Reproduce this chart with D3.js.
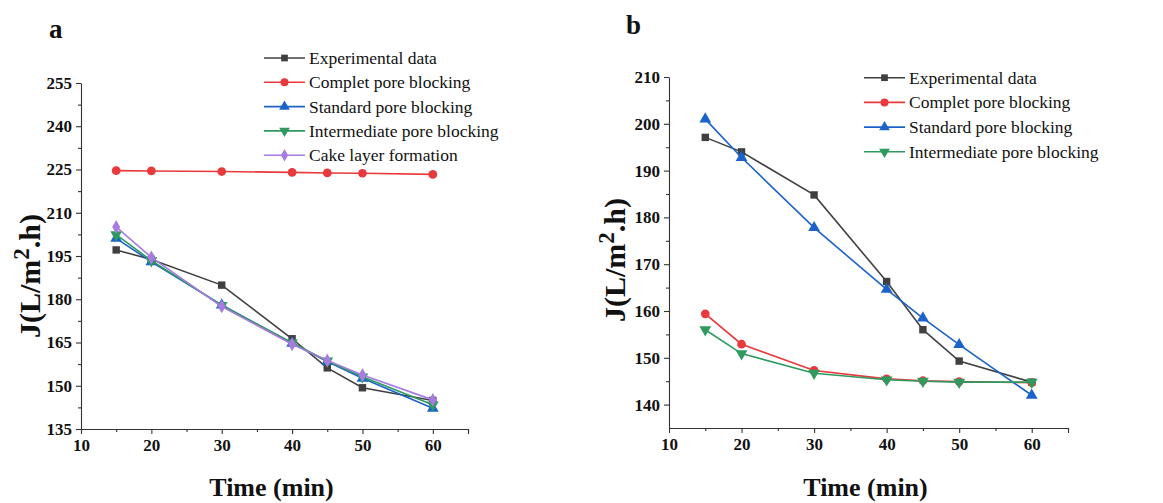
<!DOCTYPE html>
<html>
<head>
<meta charset="utf-8">
<script src="https://cdn.jsdelivr.net/npm/d3@7"></script>
<style>
  body { margin: 0; background: #fff; }
  svg { font-family: "Liberation Serif", "Times New Roman", serif; }
</style>
</head>
<body>
<div id="chart"></div>
<script>
var times = [15, 20, 30, 40, 45, 50, 60];

// panel a
var expA = [197.1, 193.8, 184.9, 166.3, 156.2, 149.3, 144.9];
var completA = [224.6, 224.5, 224.3, 224.0, 223.8, 223.7, 223.3];
var standardA = [201.1, 193.0, 178.0, 164.7, 158.4, 152.6, 142.2];
var intermediateA = [202.4, 193.4, 177.9, 164.9, 158.6, 153.1, 143.4];
var cakeA = [205.1, 194.5, 177.5, 164.4, 158.8, 153.7, 145.1];

// panel b
var expB = [197.1, 194.0, 184.8, 166.3, 156.0, 149.3, 144.8];
var completB = [159.4, 152.9, 147.3, 145.5, 145.1, 144.9, 144.7];
var standardB = [201.0, 192.8, 177.8, 164.6, 158.5, 152.8, 142.0];
var intermediateB = [156.0, 150.9, 146.7, 145.3, 145.0, 144.8, 144.8];

var ticksA = [135, 150, 165, 180, 195, 210, 225, 240, 255];
var ticksB = [140, 150, 160, 170, 180, 190, 200, 210];
var xTicks = [10, 20, 30, 40, 50, 60];

var names = ["Experimental data", "Complet pore blocking", "Standard pore blocking",
             "Intermediate pore blocking", "Cake layer formation"];
var colors = ["#404040", "#e8393c", "#1c63c9", "#2e9a5f", "#a77be0"];
var symbols = [d3.symbolSquare, d3.symbolCircle, d3.symbolTriangle, d3.symbolTriangle, d3.symbolDiamond];
var rot = [0, 0, 0, 180, 0];
var symSize = [55, 60, 60, 60, 55];
var serif = "Liberation Serif";

var svg = d3.select("#chart").append("svg")
    .attr("width", 1163)
    .attr("height", 503);

function styleAxis(a) {
  a.attr("font-family", serif)
   .attr("font-size", 17)
   .attr("font-weight", "bold");
  a.select(".domain").attr("stroke", "#333").attr("stroke-width", 1.1);
  a.selectAll(".tick line").attr("stroke", "#333").attr("stroke-width", 1.1);
  a.selectAll(".tick text").attr("fill", "#111");
}

function panel(o) {
  var x = d3.scaleLinear().domain([10, 65]).range([o.left, o.right]);
  var y = d3.scaleLinear().domain(o.ydom).range([o.bottom, o.top]);
  var g = svg.append("g");

  // minor ticks
  var xMinor = d3.range(15, 66, 10);
  g.append("g")
      .attr("transform", "translate(0," + o.bottom + ")")
      .call(d3.axisBottom(x).tickValues(xMinor).tickSize(3).tickFormat(""))
      .call(styleAxis)
      .call(function(a) { a.select(".domain").remove(); });
  g.append("g")
      .attr("transform", "translate(" + o.left + ",0)")
      .call(d3.axisLeft(y).tickValues(o.minor).tickSize(3).tickFormat(""))
      .call(styleAxis)
      .call(function(a) { a.select(".domain").remove(); });

  g.append("g")
      .attr("transform", "translate(0," + o.bottom + ")")
      .call(d3.axisBottom(x).tickValues(xTicks.concat([65])).tickSize(5).tickSizeOuter(0).tickPadding(5)
        .tickFormat(function(d) { return d == 65 ? "" : d; }))
      .call(styleAxis);
  g.append("g")
      .attr("transform", "translate(" + o.left + ",0)")
      .call(d3.axisLeft(y).tickValues(o.ticks).tickSize(5).tickSizeOuter(0).tickPadding(4))
      .call(styleAxis);

  var line = d3.line()
      .x(function(d, i) { return x(times[i]); })
      .y(function(d) { return y(d); });

  o.series.forEach(function(s, k) {
    var idx = o.idx[k];
    g.append("path")
        .datum(s)
        .attr("fill", "none")
        .attr("stroke", colors[idx])
        .attr("stroke-width", 1.6)
        .attr("d", line);
    g.selectAll(".m" + k)
        .data(s)
      .enter().append("path")
        .attr("d", d3.symbol().type(symbols[idx]).size(symSize[idx]))
        .attr("transform", function(d, i) {
          return "translate(" + x(times[i]) + "," + y(d) + ") rotate(" + rot[idx] + ")";
        })
        .attr("fill", colors[idx]);
  });

  // legend
  var lg = g.append("g");
  o.idx.forEach(function(idx, k) {
    var ly = o.legY + k * o.legDy;
    lg.append("line")
        .attr("x1", o.legX).attr("x2", o.legX + 41)
        .attr("y1", ly).attr("y2", ly)
        .attr("stroke", colors[idx]).attr("stroke-width", 1.6);
    lg.append("path")
        .attr("d", d3.symbol().type(symbols[idx]).size(symSize[idx] - 10))
        .attr("transform", "translate(" + (o.legX + 20.5) + "," + ly + ") rotate(" + rot[idx] + ")")
        .attr("fill", colors[idx]);
    lg.append("text")
        .attr("x", o.legX + 45)
        .attr("y", ly + 6)
        .attr("font-size", "17.5px")
        .attr("fill", "#111")
        .text(names[idx]);
  });

  // titles
  g.append("text")
      .attr("x", (o.left + o.right) / 2 - 3)
      .attr("y", 496)
      .attr("text-anchor", "middle")
      .attr("font-size", "26px")
      .attr("font-weight", "bold")
      .attr("fill", "#111")
      .text("Time (min)");

  var yt = g.append("text")
      .attr("transform", "translate(" + o.ytX + "," + o.ytY + ") rotate(-90)")
      .attr("text-anchor", "middle")
      .attr("font-size", "30px")
      .attr("font-weight", "bold")
      .attr("fill", "#111");
  yt.append("tspan").text("J(L/m");
  yt.append("tspan").attr("dy", -11).attr("font-size", "23px").text("2");
  yt.append("tspan").attr("dy", 11).text(".h)");

  g.append("text")
      .attr("x", o.labX)
      .attr("y", o.labY)
      .attr("font-size", "27px")
      .attr("font-weight", "bold")
      .attr("fill", "#111")
      .text(o.label);
}

panel({
  left: 81, right: 468, top: 83, bottom: 429,
  ydom: [135, 255], ticks: ticksA, minor: d3.range(142.5, 255, 15),
  series: [expA, completA, standardA, intermediateA, cakeA], idx: [0, 1, 2, 3, 4],
  legX: 264, legY: 58, legDy: 24.3,
  ytX: 40, ytY: 276, label: "a", labX: 49, labY: 38
});

panel({
  left: 669, right: 1068, top: 77, bottom: 428,
  ydom: [135, 210], ticks: ticksB, minor: d3.range(145, 210, 10),
  series: [expB, completB, standardB, intermediateB], idx: [0, 1, 2, 3],
  legX: 864, legY: 77.7, legDy: 24.7,
  ytX: 625, ytY: 260, label: "b", labX: 626, labY: 34
});
</script>
</body>
</html>
